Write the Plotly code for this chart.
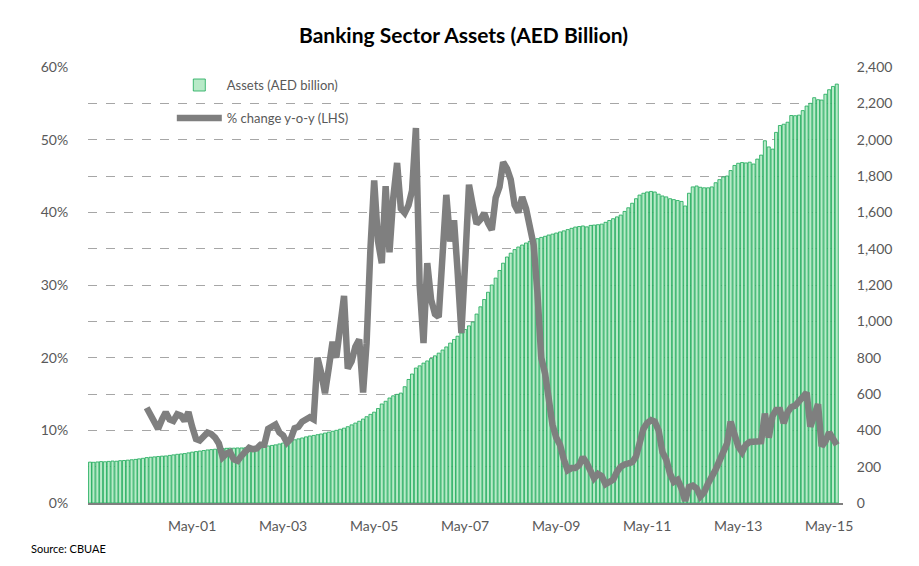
import pandas as pd
import plotly.graph_objects as go

# Monthly dates: Feb 1999 .. Jul 2015
months = pd.date_range("1999-02-01", "2015-07-01", freq="MS")

# Banking sector assets (AED billion), monthly
assets = [
    225, 224, 226, 228, 227, 229, 231, 230, 233, 234, 236, 238,
    240, 243, 246, 250, 252, 254, 256, 258, 259, 262, 265, 268,
    270, 272, 276, 280, 283, 286, 289, 292, 294, 296, 298, 300,
    301, 302, 302, 303, 303, 304, 305, 306, 307, 309, 311, 314,
    317, 320, 325, 330, 336, 342, 348, 353, 358, 364, 369, 372,
    376, 380, 385, 390, 395, 400, 406, 412, 420, 430, 440, 450,
    462, 475, 488, 500, 520, 545, 560, 578, 590, 598, 605, 640,
    680, 710, 743, 755, 770, 782, 795, 810, 825, 842, 859, 880,
    900, 918, 936, 955, 975, 996, 1040, 1080, 1120, 1160, 1200, 1238,
    1280, 1320, 1354, 1375, 1395, 1409, 1420, 1431, 1440, 1448, 1455, 1462,
    1468, 1475, 1480, 1486, 1492, 1498, 1505, 1512, 1519, 1522, 1525, 1520,
    1528, 1530, 1532, 1535, 1545, 1555, 1565, 1575, 1585, 1605, 1625, 1650,
    1675, 1695, 1705, 1712, 1715, 1712, 1700, 1690, 1685, 1675, 1670, 1665,
    1660, 1635, 1705, 1740, 1745, 1738, 1735, 1735, 1740, 1763, 1780, 1795,
    1800, 1830, 1858, 1870, 1874, 1872, 1876, 1866, 1893, 1915, 1994, 1960,
    1948, 2040, 2078, 2085, 2096, 2133, 2132, 2135, 2160, 2185, 2200, 2231,
    2220, 2218, 2250, 2275, 2293, 2306,
]

# % change y-o-y (LHS), monthly from May 2000
yoy_start = 15
yoy = [
    13.1, 12.0, 11.0, 10.2, 11.5, 12.5, 11.5, 11.3, 12.2,
    12.0, 11.3, 12.5, 10.5, 8.8, 8.6, 9.3, 9.7, 9.5, 9.0, 8.2, 6.3,
    6.8, 7.0, 6.0, 5.8, 6.5, 7.0, 7.6, 7.4, 7.5, 8.0, 8.0, 10.2,
    10.5, 10.8, 9.7, 9.3, 8.3, 8.8, 10.3, 10.5, 11.2, 11.5, 11.8, 11.5,
    20.0, 18.0, 15.1, 18.5, 22.2, 20.0, 24.0, 28.5, 18.5, 19.5, 21.5, 22.5,
    15.2, 22.0, 35.0, 44.4, 36.0, 33.0, 43.6, 34.5, 42.0, 46.8, 40.5, 39.9,
    41.0, 43.0, 51.6, 30.0, 22.0, 33.0, 28.0, 26.0, 25.6, 33.0, 42.4, 36.0,
    38.9, 32.0, 23.4, 33.0, 43.8, 41.0, 38.4, 39.0, 39.9, 38.5, 37.6, 42.0,
    43.5, 46.9, 46.0, 44.5, 41.0, 40.0, 42.1, 40.5, 38.0, 35.5, 29.0, 20.0,
    17.8, 14.0, 10.8, 9.0, 8.0, 6.0, 4.5, 4.8, 4.8, 5.2, 6.3, 5.5,
    4.5, 3.4, 4.0, 3.7, 2.6, 3.0, 3.2, 4.3, 5.0, 5.3, 5.5, 5.6,
    6.4, 8.5, 10.2, 11.0, 11.4, 11.2, 10.0, 7.0, 6.0, 4.0, 2.9, 3.2,
    2.0, 0.3, 2.2, 2.4, 2.0, 0.9, 1.5, 2.7, 3.5, 4.6, 5.8, 7.0,
    8.2, 11.2, 9.0, 7.8, 7.0, 8.0, 8.4, 8.4, 8.3, 8.5, 12.3, 9.0,
    12.0, 12.8, 12.8, 11.0, 12.5, 13.2, 13.4, 14.0, 14.6, 15.2, 10.5, 12.0,
    13.6, 7.8, 8.5, 9.7, 9.0, 8.0,
]

tick_dates = ["2001-05-01", "2003-05-01", "2005-05-01", "2007-05-01",
              "2009-05-01", "2011-05-01", "2013-05-01", "2015-05-01"]
tick_labels = ["May-01", "May-03", "May-05", "May-07",
               "May-09", "May-11", "May-13", "May-15"]

FONT = "Lato"
TXT = "#595959"
CLEAR = "rgba(0,0,0,0)"

fig = go.Figure()
fig.add_trace(go.Bar(
    x=months, y=assets, name="Assets (AED billion)",
    marker=dict(color="#b8eac8", line=dict(color="#19a857", width=0.8)),
    yaxis="y", legendgroup="a",
))
fig.add_trace(go.Scatter(
    x=months[yoy_start:yoy_start + len(yoy)], y=yoy,
    name="% change y-o-y (LHS)", mode="lines",
    line=dict(color="#7f7f7f", width=6.5),
    yaxis="y2", legendgroup="b",
))

fig.update_layout(
    width=911, height=558,
    paper_bgcolor="white", plot_bgcolor="white",
    margin=dict(l=80, r=76, t=59, b=63),
    bargap=0.12,
    title=dict(text="<b>Banking Sector Assets (AED Billion)</b>",
               x=0.5, xanchor="center", y=0.95, yanchor="middle",
               font=dict(family=FONT, size=21, color="#000000")),
    font=dict(family=FONT, size=14, color=TXT),
    xaxis=dict(
        type="date", range=["1999-01-16", "2015-08-20"],
        tickvals=tick_dates, ticktext=tick_labels,
        showgrid=False, showline=True, linecolor="#7f7f7f", linewidth=1.5,
        ticks="outside", ticklen=9, tickcolor=CLEAR,
        tickfont=dict(size=14, color=TXT),
    ),
    yaxis=dict(
        side="right", range=[0, 2400], dtick=200, tickformat=",d",
        showgrid=True, gridcolor="#a6a6a6", griddash="dash", gridwidth=1,
        zeroline=False, showline=False,
        ticks="outside", ticklen=10, tickcolor=CLEAR,
        tickfont=dict(size=14, color=TXT),
    ),
    yaxis2=dict(
        side="left", overlaying="y", range=[0, 60], dtick=10,
        ticksuffix="%", showgrid=False, zeroline=False, showline=False,
        ticks="outside", ticklen=16, tickcolor=CLEAR,
        tickfont=dict(size=14, color=TXT),
    ),
    legend=dict(
        x=0.111, y=0.993, xanchor="left", yanchor="top",
        bgcolor=CLEAR, font=dict(size=13, color=TXT),
        tracegroupgap=13, itemwidth=45, traceorder="grouped",
    ),
    showlegend=True,
)

fig.add_annotation(text="Source: CBUAE", xref="paper", yref="paper",
                   x=-0.078, y=-0.105, xanchor="left", yanchor="middle",
                   showarrow=False, font=dict(family=FONT, size=11, color="#000000"))

fig.write_html("out.html")
